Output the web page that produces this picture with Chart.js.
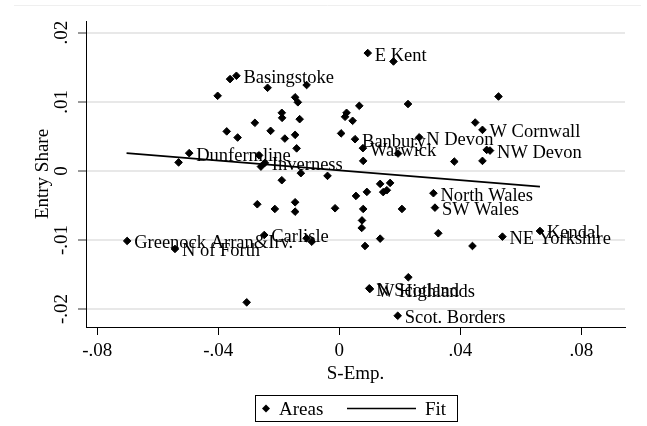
<!DOCTYPE html>
<html><head><meta charset="utf-8">
<script src="https://cdn.jsdelivr.net/npm/chart.js@4"></script>
<style>html,body{margin:0;padding:0;background:#fff}#wrap{width:647px;height:426px;position:relative}canvas{display:block}</style>
</head><body><div id="wrap"><canvas id="c" width="647" height="426"></canvas></div>
<script>
// ---- data ----
const areaX = [-0.0701,-0.0543,-0.0531,-0.0496,-0.0402,-0.0361,-0.0340,-0.0372,-0.0336,-0.0306,
  -0.0279,-0.0271,-0.0265,-0.0259,-0.0246,-0.0248,-0.0237,-0.0227,-0.0213,-0.0190,
  -0.0189,-0.0190,-0.0180,-0.0146,-0.0137,-0.0131,-0.0146,-0.0141,-0.0146,-0.0146,
  -0.0108,-0.0127,-0.0108,-0.0091,-0.0039,-0.0014,0.0006,0.0024,0.0019,0.0044,
  0.0052,0.0066,0.0055,0.0075,0.0074,0.0078,0.0079,0.0079,0.0085,0.0091,
  0.0094,0.0099,0.0101,0.0135,0.0168,0.0145,0.0157,0.0135,0.0179,0.0193,
  0.0194,0.0207,0.0227,0.0228,0.0264,0.0311,0.0316,0.0327,0.0380,0.0440,
  0.0449,0.0473,0.0473,0.0487,0.0498,0.0526,0.0539,0.0663];
const areaY = [-0.01014,-0.0113,0.00123,0.00257,0.01087,0.01329,0.01377,0.00572,0.00483,-0.01903,
  0.00696,-0.00483,0.00225,0.00062,0.00116,-0.00928,0.01203,0.0058,-0.00551,0.00841,
  0.00768,-0.00135,0.00468,0.01065,0.00993,0.00749,0.00522,0.00326,-0.00454,-0.0059,
  0.01243,-0.00033,-0.00975,-0.01025,-0.00072,-0.00541,0.00543,0.00841,0.00783,0.00725,
  0.00459,0.00942,-0.00362,-0.00717,-0.00826,0.00329,0.00145,-0.00551,-0.01087,-0.00304,
  0.01706,-0.0170,-0.0171,-0.00188,-0.00174,-0.00307,-0.0028,-0.00981,0.01584,-0.02097,
  0.00251,-0.00551,0.00968,-0.0154,0.00486,-0.00323,-0.00532,-0.00903,0.00135,-0.01087,
  0.007,0.00594,0.00145,0.00304,0.00294,0.01077,-0.00952,-0.0087];
const areaLabels = ['Greenock Arran&Irv.','N of Forth','','Dunfermline','','','Basingstoke','','','',
  '','','','','Inverness','Carlisle','','','','',
  '','','','','','','','','','',
  '','','','','','','','','','',
  'Banbury','','','','','Warwick','','','','',
  'E Kent','N Scotland','W Highlands','','','','','','','Scot. Borders',
  '','','','','N Devon','North Wales','SW Wales','','','',
  '','W Cornwall','','','NW Devon','','NE Yorkshire','Kendal'];
const fitX = [-0.0703, 0.0663];
const fitY = [0.00257, -0.00228];
const xTicks = [-0.08, -0.04, 0, 0.04, 0.08];
const yTicks = [-0.02, -0.01, 0, 0.01, 0.02];
const xTitle = 'S-Emp.';
const yTitle = 'Entry Share';
const seriesNames = ['Areas', 'Fit'];

// ---- chart ----
const FONT = 'Liberation Serif, Times New Roman, serif';
function fmt(v) {
  if (Math.abs(v) < 1e-9) return '0';
  return v.toFixed(2).replace(/^(-?)0\./, '$1.');
}

const pointLabels = {
  id: 'pointLabels',
  afterDatasetsDraw(chart) {
    const meta = chart.getDatasetMeta(1);
    const ctx = chart.ctx;
    ctx.save();
    ctx.font = '18.5px ' + FONT;
    ctx.fillStyle = '#000';
    ctx.textAlign = 'left';
    ctx.textBaseline = 'alphabetic';
    meta.data.forEach((el, i) => {
      const t = areaLabels[i];
      if (t) ctx.fillText(t, el.x + 7, el.y + 7.5);
    });
    ctx.restore();
  }
};

const frame = {
  id: 'frame',
  beforeDraw(chart) {
    const ctx = chart.ctx;
    ctx.save();
    ctx.fillStyle = '#fff';
    ctx.fillRect(0, 0, chart.width, chart.height);
    ctx.strokeStyle = '#efefef';
    ctx.lineWidth = 1;
    ctx.beginPath(); ctx.moveTo(14, 5.5); ctx.lineTo(641, 5.5); ctx.stroke();
    ctx.restore();
  },
  afterDraw(chart) {
    const ctx = chart.ctx;
    ctx.save();
    // legend
    const bx = 255.5, by = 395.5, bw = 202, bh = 26;
    ctx.strokeStyle = '#000'; ctx.lineWidth = 1;
    ctx.strokeRect(bx, by, bw, bh);
    const cy = by + bh / 2;
    ctx.fillStyle = '#000';
    ctx.beginPath();
    ctx.moveTo(266, cy - 4); ctx.lineTo(270, cy); ctx.lineTo(266, cy + 4); ctx.lineTo(262, cy);
    ctx.closePath(); ctx.fill();
    ctx.font = '19px ' + FONT;
    ctx.textAlign = 'left'; ctx.textBaseline = 'alphabetic';
    ctx.fillText(seriesNames[0], 279, cy + 6.5);
    ctx.lineWidth = 1.6;
    ctx.beginPath(); ctx.moveTo(347, cy); ctx.lineTo(416, cy); ctx.stroke();
    ctx.fillText(seriesNames[1], 425, cy + 6.5);
    ctx.restore();
  }
};

new Chart(document.getElementById('c'), {
  type: 'scatter',
  data: {
    datasets: [
      {
        type: 'line',
        label: seriesNames[1],
        data: fitX.map((x, i) => ({x, y: fitY[i]})),
        borderColor: '#000', borderWidth: 1.6, pointRadius: 0, fill: false, tension: 0
      },
      {
        label: seriesNames[0],
        data: areaX.map((x, i) => ({x, y: areaY[i]})),
        pointStyle: 'rectRot', pointRadius: 3.8, pointBorderWidth: 1,
        backgroundColor: '#000', borderColor: '#000'
      }
    ]
  },
  options: {
    responsive: false, animation: false, devicePixelRatio: 1,
    layout: { padding: { left: 0, right: 22, top: 21, bottom: 0 } },
    plugins: { legend: { display: false }, tooltip: { enabled: false } },
    scales: {
      x: {
        type: 'linear', min: -0.0837, max: 0.0944,
        afterBuildTicks: s => { s.ticks = xTicks.map(v => ({value: v})); },
        afterFit: s => { s.height = 99; },
        grid: { drawOnChartArea: false, tickColor: '#000', tickLength: 8, tickWidth: 1 },
        border: { display: true, color: '#000', width: 1 },
        ticks: { callback: v => fmt(v), color: '#000', font: { family: FONT, size: 19 }, padding: 5, maxRotation: 0, autoSkip: false },
        title: { display: true, text: xTitle, color: '#000', font: { family: FONT, size: 19 }, padding: { top: 0, bottom: 41 } }
      },
      y: {
        type: 'linear', min: -0.0226, max: 0.0217,
        afterBuildTicks: s => { s.ticks = yTicks.map(v => ({value: v})); },
        afterFit: s => { s.width = 86; },
        grid: { color: '#e8e8e8', lineWidth: 2, tickColor: '#333', tickLength: 8, tickWidth: 1 },
        border: { display: true, color: '#000', width: 1 },
        ticks: { callback: v => fmt(v), color: '#000', font: { family: FONT, size: 19 }, padding: 1, minRotation: 90, maxRotation: 90, crossAlign: 'center', autoSkip: false },
        title: { display: true, text: yTitle, color: '#000', font: { family: FONT, size: 19 }, padding: { top: 31.6, bottom: 0 } }
      }
    }
  },
  plugins: [frame, pointLabels]
});
</script>
</body></html>
